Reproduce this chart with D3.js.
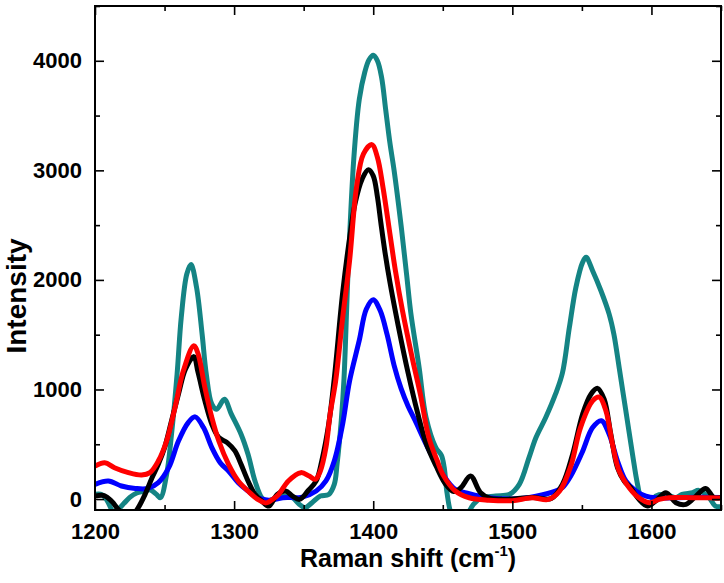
<!DOCTYPE html>
<html>
<head>
<meta charset="utf-8">
<script src="https://cdn.jsdelivr.net/npm/d3@7"></script>
<style>
  body { margin: 0; background: #fff; }
  svg { display: block; }
  text { font-family: "Liberation Sans", Arial, sans-serif; font-weight: bold; fill: #000; }
</style>
</head>
<body>
<svg id="chart" width="724" height="583"></svg>
<script>
// Raman spectra, [shift (cm-1), intensity]
const teal = [[1200,43],[1205,40],[1209,-20],[1213,-110],[1217,-90],[1221,-37],[1225,15],[1230,55],[1235,70],[1239.5,85],[1244,45],[1247,12],[1251.5,226],[1255,591],[1259,1140],[1262,1657],[1266,2054],[1269,2140],[1273,1932],[1277,1505],[1280,1140],[1284,865],[1287.5,820],[1293,910],[1298,775],[1305,591],[1310,408],[1315,165],[1320,10],[1324,-20],[1330,10],[1338,30],[1342,12],[1347,-49],[1351,-79],[1356,-33],[1362,27],[1368,42],[1372,134],[1374,317],[1377,713],[1379,1100],[1382,2100],[1386,3100],[1390,3650],[1394,3900],[1397,4010],[1400,4050],[1403,4000],[1406,3850],[1409,3550],[1412,3250],[1415,3000],[1420,2500],[1424,2050],[1427,1700],[1433,1200],[1438,744],[1445,470],[1449,400],[1451,290],[1453,60],[1456,-130],[1460,-200],[1466,-160],[1470,-90],[1472,-48],[1478,12],[1488,27],[1498,43],[1505,134],[1512,378],[1517,561],[1524,744],[1531,957],[1536,1150],[1541,1566],[1545.7,1932],[1550.5,2160],[1553,2206],[1557.7,2084],[1563.7,1901],[1569.6,1688],[1573,1505],[1576.8,1200],[1581.6,804],[1586.4,408],[1590,134],[1593.6,-33],[1598.4,-48],[1603,27],[1610,43],[1617.6,12],[1622,43],[1629.6,58],[1634,79],[1641.5,12],[1646,-64],[1650,-70]];

const blue = [[1200,134],[1209.6,165],[1219,119],[1229,97],[1238,97],[1245.5,149],[1253,286],[1260,530],[1267,698],[1272,750],[1278,652],[1284,469],[1290,332],[1296,256],[1303,149],[1310,73],[1317,12],[1325,-10],[1335,12],[1349,18],[1359,73],[1366,165],[1372,347],[1378,683],[1383,1078],[1390,1450],[1395,1733],[1400,1820],[1405,1720],[1410,1500],[1415,1220],[1420,1010],[1425,850],[1430,720],[1440,450],[1450,225],[1459,88],[1469,49],[1483,12],[1500,0],[1517,27],[1531,73],[1536,104],[1542,210],[1550,420],[1557.7,652],[1564,715],[1569.6,591],[1575.6,347],[1581.6,165],[1588.8,73],[1596,27],[1603,12],[1625,15],[1650,15]];

const black = [[1200,27],[1207,30],[1212,-20],[1218,-110],[1224,-150],[1228,-130],[1231,-80],[1236,43],[1241,195],[1245.5,317],[1250,469],[1255,713],[1260,957],[1265,1185],[1271,1300],[1274,1160],[1279,896],[1284,683],[1289,561],[1295,515],[1300.6,439],[1305,317],[1310,165],[1315,43],[1320,-20],[1325,-64],[1331,42],[1337,73],[1342,27],[1347,-3],[1353,73],[1359,165],[1363,347],[1368,683],[1372,1100],[1378,1880],[1383,2380],[1387,2700],[1392,2920],[1396.5,3005],[1400,2950],[1403,2760],[1405.5,2520],[1408.5,2250],[1412,1980],[1418,1580],[1425,1155],[1432,781],[1438,510],[1445,306],[1452,136],[1458,68],[1463,103],[1470,210],[1477,60],[1484,5],[1492,-3],[1500,0],[1515,15],[1528,5],[1536,134],[1543.3,408],[1550.5,774],[1556.5,957],[1561.3,1010],[1566,911],[1570.8,591],[1575.6,287],[1580.4,165],[1585,104],[1591,-3],[1597.2,-64],[1603,-18],[1610.4,58],[1617.6,-33],[1624.8,-48],[1632,27],[1639,97],[1645,12],[1650,15]];

const red = [[1200,301],[1207,332],[1214,286],[1224,241],[1233.5,219],[1239.5,241],[1245.5,347],[1251.5,530],[1257.5,835],[1263.5,1170],[1271,1400],[1274,1330],[1279,1018],[1284,743],[1289,530],[1296,317],[1303,165],[1310,73],[1317,-3],[1323,-35],[1328,0],[1332,42],[1339,165],[1348,241],[1354,210],[1358.5,180],[1362,256],[1366,469],[1369,774],[1373,1078],[1378,1650],[1383,2175],[1388,2846],[1393,3150],[1399,3235],[1403,3120],[1407,2846],[1412,2420],[1416,2080],[1421,1720],[1428,1290],[1434,950],[1440,560],[1446,350],[1450,225],[1459,73],[1469,12],[1483,-10],[1500,-15],[1514,12],[1526,-3],[1534,73],[1542,300],[1549,652],[1557.7,896],[1562.5,930],[1567.3,804],[1572,500],[1576.8,256],[1584,104],[1591,12],[1598.4,-33],[1605.6,-3],[1612.8,12],[1630,12],[1650,10]];

const xMajor = [1200, 1300, 1400, 1500, 1600];
const xMinor = [1250, 1350, 1450, 1550, 1650];
const yMajor = [0, 1000, 2000, 3000, 4000];
const yMinor = [500, 1500, 2500, 3500, 4500];

const seriesList = [
    { data: teal, color: '#148484' },
    { data: blue, color: '#0000ff' },
    { data: black, color: '#000000' },
    { data: red, color: '#ff0000' }
];

const svg = d3.select('#chart');
const margin = { top: 6, right: 3, bottom: 73, left: 95 };
const width = 724 - margin.left - margin.right;
const height = 583 - margin.top - margin.bottom;

const x = d3.scaleLinear().domain([1200, 1650]).range([0, width]);
const y = d3.scaleLinear().domain([-100, 4500]).range([height, 0]);

const g = svg.append('g').attr('transform', `translate(${margin.left},${margin.top})`);

g.append('clipPath').attr('id', 'plot-clip')
    .append('rect').attr('width', width).attr('height', height);

const line = d3.line()
    .x(d => x(d[0]))
    .y(d => y(d[1]))
    .curve(d3.curveCatmullRom.alpha(0.5));

g.append('g').attr('clip-path', 'url(#plot-clip)')
    .selectAll('path')
    .data(seriesList)
    .enter().append('path')
    .attr('d', d => line(d.data))
    .attr('fill', 'none')
    .attr('stroke', d => d.color)
    .attr('stroke-width', 5)
    .attr('stroke-linejoin', 'round');

// axes: ticks point inward on all four sides
function addAxis(axis, transform) {
    const a = g.append('g').attr('transform', transform).call(axis);
    a.select('.domain').remove();
    a.selectAll('line').attr('stroke', '#000').attr('stroke-width', 1.6);
    return a;
}

addAxis(d3.axisBottom(x).tickValues(xMajor).tickSize(-9).tickPadding(13).tickFormat(d3.format('d')), `translate(0,${height})`);
addAxis(d3.axisBottom(x).tickValues(xMinor).tickSize(-5).tickFormat(''), `translate(0,${height})`);
addAxis(d3.axisTop(x).tickValues(xMajor).tickSize(-9).tickFormat(''), 'translate(0,0)');
addAxis(d3.axisTop(x).tickValues(xMinor).tickSize(-5).tickFormat(''), 'translate(0,0)');

addAxis(d3.axisLeft(y).tickValues(yMajor).tickSize(-9).tickPadding(13).tickFormat(d3.format('d')), 'translate(0,0)');
addAxis(d3.axisLeft(y).tickValues(yMinor).tickSize(-5).tickFormat(''), 'translate(0,0)');
addAxis(d3.axisRight(y).tickValues(yMajor).tickSize(-9).tickFormat(''), `translate(${width},0)`);
addAxis(d3.axisRight(y).tickValues(yMinor).tickSize(-5).tickFormat(''), `translate(${width},0)`);

svg.selectAll('.tick text')
    .style('font-size', '22px')
    .style('font-family', '"Liberation Sans", Arial, sans-serif')
    .style('font-weight', 'bold')
    .attr('fill', '#000');

g.append('rect')
    .attr('width', width).attr('height', height)
    .attr('fill', 'none').attr('stroke', '#000').attr('stroke-width', 2);

// axis titles
svg.append('text')
    .attr('transform', 'translate(26,296) rotate(-90)')
    .attr('text-anchor', 'middle')
    .style('font-size', '28px')
    .text('Intensity');

const xt = svg.append('text')
    .attr('x', margin.left + width / 2)
    .attr('y', 567)
    .attr('text-anchor', 'middle')
    .style('font-size', '25px');
xt.append('tspan').text('Raman shift (cm');
xt.append('tspan').attr('dy', -11).style('font-size', '15px').text('-1');
xt.append('tspan').attr('dy', 11).text(')');
</script>
</body>
</html>
